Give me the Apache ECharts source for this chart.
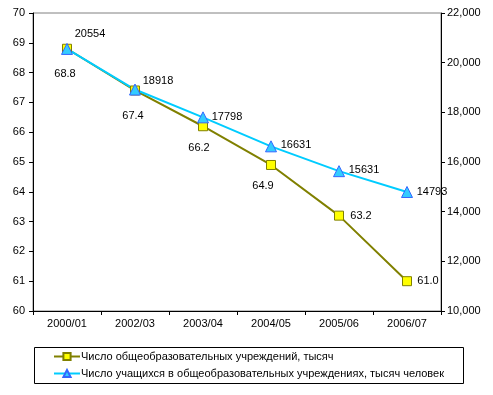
<!DOCTYPE html>
<html><head><meta charset="utf-8">
<script src="https://cdn.jsdelivr.net/npm/echarts@6/dist/echarts.min.js"></script>
<style>html,body{margin:0;padding:0;background:#fff}#c{width:493px;height:395px}</style>
</head><body><div id="c"></div>
<script>
const categories = ['2000/01','2002/03','2003/04','2004/05','2005/06','2006/07'];
const institutions = [68.8, 67.4, 66.2, 64.9, 63.2, 61.0];
const students = [20554, 18918, 17798, 16631, 15631, 14793];
const leftTicks = {min: 60, max: 70, interval: 1};
const rightTicks = {min: 10000, max: 22000, interval: 2000};
const seriesNames = ['Число общеобразовательных учреждений, тысяч',
                     'Число учащихся в общеобразовательных учреждениях, тысяч человек'];

const instLabelOffsets = [[-2,25],[-2,25],[-4,22],[-8,21],[22,0],[21,0]];
const studLabelOffsets = [[23,-15],[23,-9],[24,0],[25,-1],[25,-1],[25,0]];

const font = "'Liberation Sans', Arial, sans-serif";
const chart = echarts.init(document.getElementById('c'), null, {renderer: 'canvas'});
chart.setOption({
  animation: false,
  textStyle: {fontFamily: font},
  grid: {left: 33, right: 52, top: 13, bottom: 84, show: true, borderColor: '#808080', borderWidth: 1},
  xAxis: {
    type: 'category', data: categories, boundaryGap: true,
    axisLine: {lineStyle: {color: '#000', width: 1}},
    axisTick: {show: true, length: 4, lineStyle: {color: '#000'}},
    axisLabel: {color: '#000', fontSize: 11, fontFamily: font, margin: 7}
  },
  yAxis: [
    {type: 'value', position: 'left', min: leftTicks.min, max: leftTicks.max, interval: leftTicks.interval,
     axisLine: {show: true, lineStyle: {color: '#000'}},
     axisTick: {show: true, length: 4, lineStyle: {color: '#000'}},
     splitLine: {show: false},
     axisLabel: {color: '#000', fontSize: 11, fontFamily: font, margin: 8}},
    {type: 'value', position: 'right', min: rightTicks.min, max: rightTicks.max, interval: rightTicks.interval,
     axisLine: {show: true, lineStyle: {color: '#000'}},
     axisTick: {show: true, length: 4, lineStyle: {color: '#000'}},
     splitLine: {show: false},
     axisLabel: {color: '#000', fontSize: 11, fontFamily: font, margin: 6,
       formatter: v => v.toLocaleString('en-US')}}
  ],
  legend: {
    orient: 'vertical', left: 48, top: 346, itemGap: 6, itemWidth: 26, itemHeight: 9,
    textStyle: {fontSize: 11, color: '#000', fontFamily: font, padding: [0,0,0,-4]},
    data: seriesNames
  },
  graphic: [{type: 'rect', left: 32, top: 345, shape: {width: 429, height: 36},
    style: {fill: 'none', stroke: '#000', lineWidth: 1}, z: 100}],
  series: [
    {name: seriesNames[0], type: 'line', yAxisIndex: 0,
     symbol: 'rect', symbolSize: 9,
     lineStyle: {color: '#808000', width: 2},
     itemStyle: {color: '#ffff00', borderColor: '#808000', borderWidth: 1},
     data: institutions.map((v, i) => ({value: v, label: {offset: instLabelOffsets[i]}})),
     label: {show: true, position: 'inside', color: '#000', fontSize: 11, fontFamily: font,
       formatter: p => p.value.toFixed(1)}},
    {name: seriesNames[1], type: 'line', yAxisIndex: 1,
     symbol: 'triangle', symbolSize: 11,
     lineStyle: {color: '#00ccff', width: 2},
     itemStyle: {color: '#33ccff', borderColor: '#3366ff', borderWidth: 1},
     data: students.map((v, i) => ({value: v, label: {offset: studLabelOffsets[i]}})),
     label: {show: true, position: 'inside', color: '#000', fontSize: 11, fontFamily: font,
       formatter: p => String(p.value)}}
  ]
});
</script></body></html>
